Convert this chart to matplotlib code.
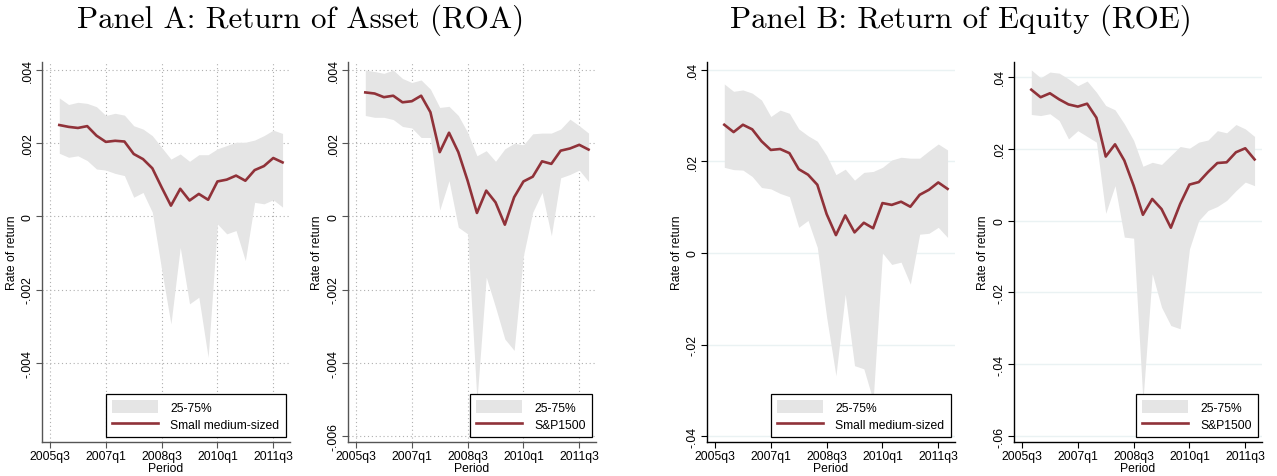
import matplotlib.pyplot as plt
import numpy as np
from matplotlib.ticker import FuncFormatter

# kuartal 2005q4 .. 2011q4 (indeks 0 = 2005q3)
kuartal = np.arange(1, 26)
label_x = ["2005q3", "2007q1", "2008q3", "2010q1", "2011q3"]
posisi_x = [0, 6, 12, 18, 24]

# ROA - perusahaan kecil menengah
roa_smes = [0.00249, 0.00244, 0.00241, 0.00246, 0.0022, 0.00203, 0.00206, 0.00204, 0.0017, 0.00156,
            0.00131, 0.00079, 0.00029, 0.00075, 0.00043, 0.00061, 0.00045, 0.00095, 0.001, 0.00111,
            0.00097, 0.00126, 0.00137, 0.00159, 0.00147]
roa_smes_p75 = [0.00323, 0.00305, 0.00311, 0.00308, 0.00299, 0.00275, 0.00281, 0.00276, 0.00247, 0.00238,
                0.0022, 0.00188, 0.00156, 0.0017, 0.0015, 0.00168, 0.00168, 0.00184, 0.00193, 0.00202,
                0.00202, 0.00208, 0.0022, 0.00235, 0.00226]
roa_smes_p25 = [0.00172, 0.00161, 0.00165, 0.00152, 0.00129, 0.00126, 0.00117, 0.00111, 0.00052, 0.00065,
                0.00011, -0.00145, -0.00294, -0.00085, -0.00239, -0.00221, -0.00385, -0.00021, -0.00048, -0.00039,
                -0.00121, 0.00038, 0.00034, 0.00045, 0.00025]

# ROA - S&P1500
roa_sp = [0.00338, 0.00335, 0.00325, 0.00329, 0.00311, 0.00314, 0.00329, 0.00284, 0.00175, 0.00228,
          0.00175, 0.00097, 0.00009, 0.0007, 0.00038, -0.00023, 0.00052, 0.00095, 0.00108, 0.0015,
          0.00143, 0.00179, 0.00185, 0.00195, 0.00182]
roa_sp_p75 = [0.00399, 0.00395, 0.0039, 0.00399, 0.00376, 0.00365, 0.00372, 0.00347, 0.00297, 0.003,
              0.00275, 0.00229, 0.00165, 0.00179, 0.0015, 0.00184, 0.00199, 0.00195, 0.00225, 0.00227,
              0.00227, 0.00238, 0.00265, 0.00247, 0.00227]
roa_sp_p25 = [0.00275, 0.0027, 0.0027, 0.00264, 0.00245, 0.00241, 0.00215, 0.00215, 0.00017, 0.00097,
              -0.0003, -0.00048, -0.00503, -0.00166, -0.00248, -0.00335, -0.00366, -0.00107, 0.00011, 0.00065,
              -0.00053, 0.00105, 0.00114, 0.00126, 0.00095]

# ROE - perusahaan kecil menengah
roe_smes = [0.028, 0.0264, 0.028, 0.027, 0.0244, 0.0225, 0.0227, 0.0218, 0.0183, 0.0171,
            0.0149, 0.0085, 0.0039, 0.0082, 0.0045, 0.0066, 0.0054, 0.0109, 0.0105, 0.0112,
            0.0101, 0.0127, 0.0138, 0.0154, 0.014]
roe_smes_p75 = [0.0369, 0.0353, 0.0356, 0.0349, 0.0334, 0.0298, 0.0312, 0.0305, 0.0271, 0.0256,
                0.0244, 0.0213, 0.0171, 0.0183, 0.0159, 0.0176, 0.0178, 0.0187, 0.0203, 0.0209,
                0.0207, 0.0207, 0.0223, 0.0238, 0.0225]
roe_smes_p25 = [0.0187, 0.0182, 0.0181, 0.0167, 0.0143, 0.014, 0.013, 0.0123, 0.0056, 0.0071,
                0.0012, -0.014, -0.0268, -0.009, -0.0246, -0.0253, -0.0322, 0.0, -0.0025, -0.002,
                -0.0068, 0.0041, 0.0043, 0.0056, 0.0034]

# ROE - S&P1500
roe_sp = [0.0364, 0.0343, 0.0354, 0.0337, 0.0323, 0.0317, 0.0325, 0.0286, 0.0178, 0.0212,
          0.0167, 0.0097, 0.0016, 0.006, 0.0032, -0.002, 0.0046, 0.01, 0.0107, 0.0135,
          0.016, 0.0162, 0.019, 0.0201, 0.017]
roe_sp_p75 = [0.0419, 0.0397, 0.0413, 0.041, 0.0394, 0.0375, 0.0388, 0.0357, 0.032, 0.0308,
              0.0269, 0.0223, 0.0151, 0.0162, 0.0156, 0.0181, 0.0206, 0.0201, 0.0218, 0.0224,
              0.025, 0.0244, 0.0267, 0.0255, 0.0234]
roe_sp_p25 = [0.0295, 0.0292, 0.0297, 0.0278, 0.0227, 0.025, 0.0234, 0.0218, 0.002, 0.0097,
              -0.0046, -0.0049, -0.0501, -0.0148, -0.0241, -0.0292, -0.0301, -0.0079, 0.0, 0.0028,
              0.0039, 0.0056, 0.0083, 0.0107, 0.0097]

merah = "#903239"
abu = "#e5e5e5"
W, H = 1277, 477

plt.rcParams['font.family'] = ['Liberation Sans', 'DejaVu Sans']

fig = plt.figure(figsize=(W / 100, H / 100), dpi=100)


def stata_fmt(v, pos):
    if abs(v) < 1e-12:
        return "0"
    s = ("%.3f" % v).rstrip("0")
    return s.replace("0.", ".")


def panel(kiri, y, p25, p75, nama, yticks, ylim, gaya_a):
    ax = fig.add_axes([kiri / W, (H - 443) / H, 248 / W, 380 / H])
    ax.fill_between(kuartal, p25, p75, color=abu, lw=0, zorder=1, label="25-75%")
    ax.plot(kuartal, y, color=merah, lw=1.9, zorder=3, label=nama)
    ax.set_xlim(-0.86, 25.8)
    ax.set_ylim(*ylim)
    ax.set_xticks(posisi_x)
    ax.set_xticklabels(label_x)
    ax.set_yticks(yticks)
    ax.yaxis.set_major_formatter(FuncFormatter(stata_fmt))
    for lbl in ax.get_yticklabels():
        lbl.set_rotation(90)
        lbl.set_va("center")
    ax.tick_params(labelsize=8.7, length=4, width=0.8, pad=2)
    ax.set_xlabel("Period", fontsize=8.7, labelpad=0)
    ax.set_ylabel("Rate of return", fontsize=8.7, labelpad=3)
    for s in ["top", "right"]:
        ax.spines[s].set_visible(False)
    warna_sumbu = "#555555" if gaya_a else "black"
    for s in ["left", "bottom"]:
        ax.spines[s].set_color(warna_sumbu)
        ax.spines[s].set_linewidth(1.0)
    ax.tick_params(colors=warna_sumbu, labelcolor="black")
    if gaya_a:
        ax.grid(True, color="#b0b0b0", lw=0.8, linestyle=(0, (1, 2.5)), zorder=0)
    else:
        ax.grid(True, axis="y", color="#eaf2f3", lw=1.0, zorder=0)
    ax.set_axisbelow(True)
    leg = ax.legend(loc="lower right", bbox_to_anchor=(0.982, 0.013), borderaxespad=0,
                    fontsize=8.7, fancybox=False, framealpha=1, edgecolor="black",
                    handlelength=3.8, handleheight=1.3, handletextpad=1.0,
                    borderpad=0.5, labelspacing=0.3)
    leg.get_frame().set_linewidth(0.9)
    return ax


panel(42, roa_smes, roa_smes_p25, roa_smes_p75, "Small medium-sized",
      [-0.004, -0.002, 0, 0.002, 0.004], (-0.00616, 0.00421), True)
panel(348, roa_sp, roa_sp_p25, roa_sp_p75, "S&P1500",
      [-0.006, -0.004, -0.002, 0, 0.002, 0.004], (-0.00616, 0.00421), True)
panel(707, roe_smes, roe_smes_p25, roe_smes_p75, "Small medium-sized",
      [-0.04, -0.02, 0, 0.02, 0.04], (-0.04127, 0.0417), False)
panel(1014, roe_sp, roe_sp_p25, roe_sp_p75, "S&P1500",
      [-0.06, -0.04, -0.02, 0, 0.02, 0.04], (-0.0616, 0.0441), False)

fig.text(301 / W, 1 - 20 / H, "Panel A: Return of Asset (ROA)", family="cmr10",
         fontsize=22.3, ha="center", va="center")
fig.text(961 / W, 1 - 20 / H, "Panel B: Return of Equity (ROE)", family="cmr10",
         fontsize=22.3, ha="center", va="center")

fig.savefig("out.png", dpi=100)
